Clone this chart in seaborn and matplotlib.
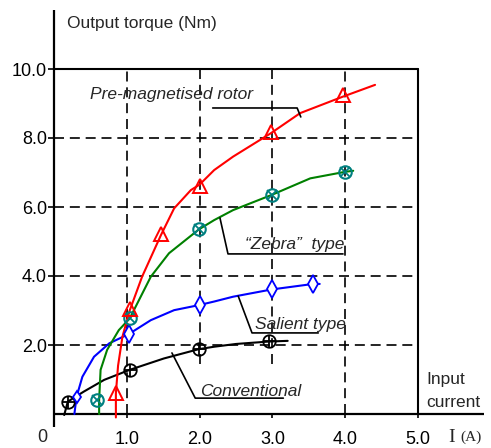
import numpy as np
import pandas as pd
import matplotlib
matplotlib.use("Agg")
import matplotlib.pyplot as plt
import seaborn as sns

# ---------------- data ----------------
pm_curve_x = [0.85, 0.85, 0.88, 0.94, 1.04, 1.21, 1.47, 1.65, 1.88, 2.00, 2.20, 2.46, 2.98, 3.38, 3.97, 4.41]
pm_curve_y = [-0.1, 0.60, 1.40, 2.24, 3.00, 3.98, 5.19, 5.96, 6.49, 6.65, 7.07, 7.46, 8.14, 8.72, 9.20, 9.54]
pm_mark_x = [0.85, 1.04, 1.47, 2.00, 2.98, 3.97]
pm_mark_y = [0.60, 3.05, 5.22, 6.62, 8.18, 9.26]

zb_curve_x = [0.62, 0.62, 0.64, 0.73, 0.89, 1.04, 1.33, 1.58, 1.99, 2.20, 2.46, 2.99, 3.52, 4.00, 4.11]
zb_curve_y = [0.00, 0.41, 1.28, 1.86, 2.43, 2.77, 3.98, 4.66, 5.35, 5.62, 5.91, 6.35, 6.83, 7.02, 7.05]
zb_mark_x = [0.59, 1.04, 1.99, 2.99, 4.00]
zb_mark_y = [0.41, 2.77, 5.35, 6.35, 7.02]

sa_curve_x = [0.28, 0.31, 0.39, 0.55, 0.76, 1.03, 1.33, 1.65, 2.00, 2.20, 2.46, 2.99, 3.56, 3.65]
sa_curve_y = [0.00, 0.50, 1.08, 1.66, 2.05, 2.32, 2.72, 3.01, 3.16, 3.26, 3.40, 3.61, 3.77, 3.77]
sa_mark_x = [0.31, 1.03, 2.00, 2.99, 3.56]
sa_mark_y = [0.50, 2.32, 3.16, 3.61, 3.77]

cv_curve_x = [0.14, 0.19, 0.41, 0.69, 1.04, 1.51, 1.99, 2.20, 2.50, 2.95, 3.21]
cv_curve_y = [-0.03, 0.36, 0.65, 0.99, 1.28, 1.61, 1.88, 1.95, 2.03, 2.10, 2.12]
cv_mark_x = [0.19, 1.04, 1.99, 2.95]
cv_mark_y = [0.36, 1.28, 1.88, 2.12]

x_ticks = [1, 2, 3, 4, 5]
x_tick_labels = ["1.0", "2.0", "3.0", "4.0", "5.0"]
y_ticks = [2, 4, 6, 8, 10]
y_tick_labels = ["2.0", "4.0", "6.0", "8.0", "10.0"]

# ---------------- figure ----------------
sns.set_theme(style="white")
plt.rcParams["font.family"] = ["Liberation Sans", "DejaVu Sans"]

fig = plt.figure(figsize=(4.91, 4.48), dpi=100)
ax = fig.add_axes([54 / 491, 34 / 448, 5.9 * 72.8 / 491, 11.7 * 34.5 / 448])
ax.set_xlim(0, 5.9)
ax.set_ylim(0, 11.7)
for s in ax.spines.values():
    s.set_visible(False)
ax.set_facecolor("white")

# axes lines
ax.plot([0, 0], [-0.38, 11.7], color="black", lw=1.6, clip_on=False, solid_capstyle="butt")
ax.plot([0, 5.9], [0, 0], color="black", lw=1.6, clip_on=False, solid_capstyle="butt")
# frame at 10 and 5
ax.plot([0, 5], [10, 10], color="black", lw=1.5, clip_on=False)
ax.plot([5, 5], [0, 10], color="black", lw=1.5, clip_on=False)

dash = (0, (6, 3.5))
for yv in [2, 4, 6, 8]:
    ax.plot([0, 5], [yv, yv], color="black", lw=1.2, linestyle=dash)
ax.plot([1, 1], [0, 10], color="black", lw=1.2, linestyle=dash)
ax.plot([4, 4], [0, 10], color="black", lw=1.2, linestyle=dash)
ax.plot([2, 2], [1.45, 10], color="black", lw=1.2, linestyle=dash)
ax.plot([3, 3], [1.45, 10], color="black", lw=1.2, linestyle=dash)

# ticks
ax.set_xticks(x_ticks)
ax.set_xticklabels(x_tick_labels, fontsize=13)
ax.set_yticks(y_ticks)
ax.set_yticklabels(y_tick_labels, fontsize=13)
ax.tick_params(axis="x", direction="out", length=3, width=1.2, pad=9, bottom=True, colors="black")
ax.tick_params(axis="y", direction="out", length=4, width=1.2, pad=1, left=True, colors="black")
ax.text(-0.16, -0.67, "0", fontsize=13, ha="center", va="center", clip_on=False)

# curves
curves = [
    (cv_curve_x, cv_curve_y, "black"),
    (sa_curve_x, sa_curve_y, "#0000ff"),
    (zb_curve_x, zb_curve_y, "#008000"),
    (pm_curve_x, pm_curve_y, "#ff0000"),
]
for cx, cy, col in curves:
    df = pd.DataFrame({"x": cx, "y": cy})
    sns.lineplot(data=df, x="x", y="y", sort=False, estimator=None, color=col,
                 lw=1.5, ax=ax, clip_on=False)

# markers
ax.plot(cv_mark_x, cv_mark_y, linestyle="none", marker="o", ms=9, mfc="none", mec="black", mew=1.3, clip_on=False)
ax.plot(cv_mark_x, cv_mark_y, linestyle="none", marker="+", ms=9, mec="black", mew=1.3, clip_on=False)

ax.plot(sa_mark_x[:1], sa_mark_y[:1], linestyle="none", marker="d", ms=6.5, mfc="white", mec="#0000ff", mew=1.3)
ax.plot(sa_mark_x[1:], sa_mark_y[1:], linestyle="none", marker="d", ms=9, mfc="white", mec="#0000ff", mew=1.3)

ax.plot(zb_mark_x, zb_mark_y, linestyle="none", marker="o", ms=9, mfc="none", mec="#008080", mew=1.5)
ax.plot(zb_mark_x, zb_mark_y, linestyle="none", marker="x", ms=6.5, mec="#008080", mew=1.3)

ax.plot(pm_mark_x, pm_mark_y, linestyle="none", marker="^", ms=10.5, mfc="none", mec="#ff0000", mew=1.4)

# annotations
ax.text(0.495, 9.25, "Pre-magnetised rotor", fontsize=12.5, style="italic", ha="left", va="center")
ax.plot([2.18, 3.34, 3.39], [8.87, 8.87, 8.61], color="black", lw=1.2)

ax.text(2.62, 4.9, "\u201cZebra\u201d  type", fontsize=12.5, style="italic", ha="left", va="center")
ax.plot([2.28, 2.39, 3.97], [5.68, 4.64, 4.64], color="black", lw=1.2)

ax.text(2.76, 2.58, "Salient type", fontsize=12.5, style="italic", ha="left", va="center")
ax.plot([2.53, 2.72, 3.63], [3.42, 2.35, 2.35], color="black", lw=1.2)

ax.text(2.0, 0.64, "Conventional", fontsize=12.5, style="italic", ha="left", va="center")
ax.plot([1.62, 1.94, 3.15], [1.77, 0.46, 0.46], color="black", lw=1.2)

ax.text(0.18, 11.33, "Output torque (Nm)", fontsize=12.5, ha="left", va="center", clip_on=False)
ax.text(5.12, 1.01, "Input", fontsize=12.5, ha="left", va="center", clip_on=False)
ax.text(5.12, 0.32, "current", fontsize=12.5, ha="left", va="center", clip_on=False)
ax.text(5.41, -0.67, "I", fontsize=14, family=["Liberation Serif", "DejaVu Serif"], ha="left", va="center", clip_on=False)
ax.text(5.58, -0.67, "(A)", fontsize=11, family=["Liberation Serif", "DejaVu Serif"], ha="left", va="center", clip_on=False)

ax.set_xlabel("")
ax.set_ylabel("")

fig.savefig("out.png", dpi=100)
